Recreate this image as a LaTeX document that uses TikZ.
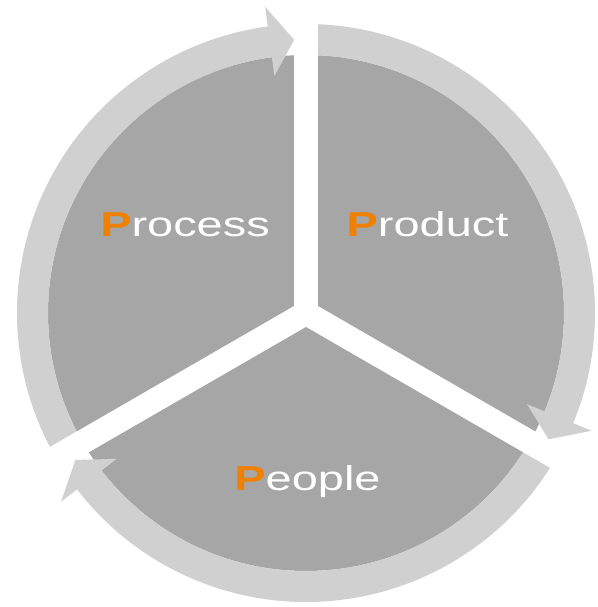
\documentclass[tikz,border=0pt]{standalone}
\usepackage{fontspec,graphicx}
\setmainfont{Liberation Sans}
\definecolor{sectorgray}{RGB}{166,166,166}
\definecolor{ringgray}{RGB}{208,208,208}
\definecolor{porange}{RGB}{240,128,0}
\tikzstyle{sectorfill} = [fill=sectorgray]
\tikzstyle{ringband} = [draw=ringgray, line width=31pt]
\tikzstyle{ringhead} = [fill=ringgray]
\tikzstyle{gapbar} = [draw=white, line width=24pt]
\tikzstyle{ptext} = [anchor=base, text=white, inner sep=0pt, font=\fontsize{34.5}{40}\selectfont]
\newcommand{\pword}[2]{\scalebox{1.36}[1]{\textcolor{porange}{\bfseries #1}#2}}

\begin{document}
\begin{tikzpicture}[x=1pt, y=1pt]
\useasboundingbox (0,0) rectangle (597,607);
\coordinate (C) at (306,294);

% Sectors
\fill [sectorfill] (C) circle [radius=258];

% Outer arrows
\draw [ringband] ([shift={(210:273.5)}]C) arc [start angle=210, end angle=97, radius=273.5];
\fill [ringhead] ([shift={(97.6:239)}]C) -- ([shift={(92.5:273.5)}]C) -- ([shift={(97.6:309)}]C) -- cycle;

\draw [ringband] ([shift={(90:273.5)}]C) arc [start angle=90, end angle=-23, radius=273.5];
\fill [ringhead] ([shift={(-22.4:239)}]C) -- ([shift={(-27.5:273.5)}]C) -- ([shift={(-22.4:309)}]C) -- cycle;

\draw [ringband] ([shift={(-30:273.5)}]C) arc [start angle=-30, end angle=-143, radius=273.5];
\fill [ringhead] ([shift={(-142.4:239)}]C) -- ([shift={(-147.5:273.5)}]C) -- ([shift={(-142.4:309)}]C) -- cycle;

% White gaps
\draw [gapbar] (C) -- ([shift={(90:320)}]C);
\draw [gapbar] (C) -- ([shift={(-30:320)}]C);
\draw [gapbar] (C) -- ([shift={(210:320)}]C);

% Labels
\node (Proc) [ptext] at (185,370) {\pword{P}{rocess}};
\node (Prod) [ptext] at (427.5,370) {\pword{P}{roduct}};
\node (Peop) [ptext] at (307.5,116) {\pword{P}{eople}};

\end{tikzpicture}
\end{document}
